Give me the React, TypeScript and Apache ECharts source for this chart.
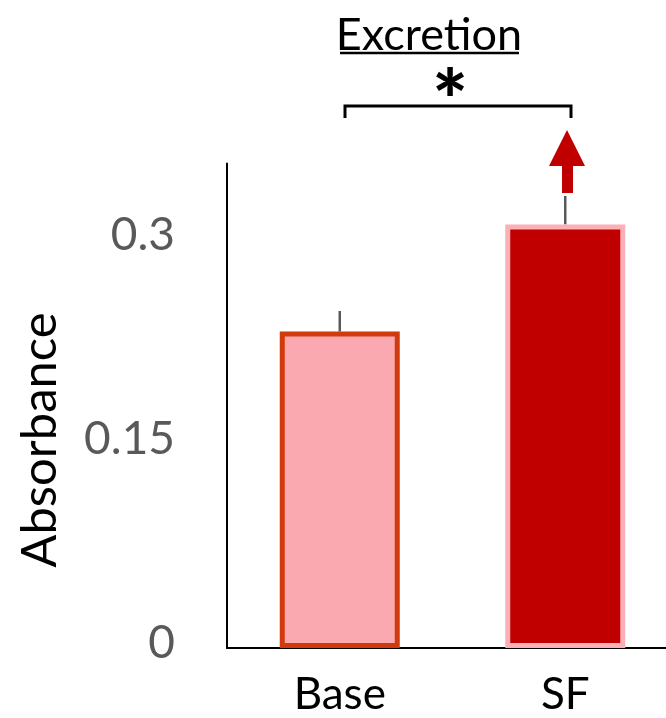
import React, { useEffect, useRef } from "react";
import * as echarts from "echarts";

// Absorbance of excretion samples, baseline vs SF
const categories = ["Base", "SF"];
const means = [0.2332, 0.3121];
const upperErrors = [0.2483, 0.3331];
const tickValues = [0, 0.15, 0.3];
const tickLabels = ["0", "0.15", "0.3"];

const FONT = "Lato, 'Open Sans', sans-serif";

export default function App() {
  const ref = useRef<HTMLDivElement>(null);

  useEffect(() => {
    if (!ref.current) return;
    const chart = echarts.init(ref.current, null, { renderer: "svg" });

    const barStyles = [
      { color: "#FBA9B0", borderColor: "#D13A0C" },
      { color: "#C00000", borderColor: "#FBAFB7" },
    ];

    chart.setOption({
      animation: false,
      // the plot area runs slightly past the right edge of the visible page
      grid: { left: 227, top: 163.5, bottom: 70, right: 2, containLabel: false },
      xAxis: {
        type: "category",
        data: categories,
        axisLine: { show: true, lineStyle: { color: "#000", width: 2 } },
        axisTick: { show: false },
        axisLabel: {
          color: "#000",
          fontSize: 44,
          lineHeight: 34,
          fontFamily: FONT,
          margin: 27,
        },
      },
      yAxis: {
        type: "value",
        min: 0,
        max: 0.357,
        interval: 0.15,
        axisLine: { show: true, lineStyle: { color: "#000", width: 2 } },
        axisTick: { show: false },
        splitLine: { show: false },
        axisLabel: {
          color: "#595959",
          fontSize: 46,
          fontFamily: FONT,
          margin: 52,
          verticalAlign: "bottom",
          lineHeight: 16,
          showMaxLabel: false,
          formatter: (v: number) => {
            const i = tickValues.findIndex((t) => Math.abs(t - v) < 1e-6);
            return i >= 0 ? tickLabels[i] : "";
          },
        },
      },
      series: [
        {
          type: "bar",
          z: 3,
          barWidth: 120,
          data: means.map((v, i) => ({
            value: v,
            itemStyle: { ...barStyles[i], borderWidth: 5 },
          })),
        },
        {
          type: "custom",
          z: 2,
          data: categories.map((_, i) => [i, means[i], upperErrors[i]]),
          renderItem: (params: any, api: any) => {
            const from = api.coord([api.value(0), api.value(1)]);
            const to = api.coord([api.value(0), api.value(2)]);
            return {
              type: "line",
              shape: { x1: from[0], y1: from[1], x2: to[0], y2: to[1] },
              style: { stroke: "#595959", lineWidth: 2.5 },
            };
          },
        },
      ],
      graphic: [
        {
          type: "text",
          x: 37,
          y: 440,
          rotation: Math.PI / 2,
          style: {
            text: "Absorbance",
            fill: "#000",
            fontSize: 49,
            fontFamily: FONT,
            align: "center",
            verticalAlign: "middle",
          },
        },
        {
          type: "text",
          x: 429,
          y: 33,
          style: {
            text: "Excretion",
            fill: "#000",
            fontSize: 45,
            lineHeight: 40,
            fontFamily: FONT,
            align: "center",
            verticalAlign: "middle",
          },
        },
        {
          type: "line",
          shape: { x1: 340, y1: 53, x2: 519, y2: 53 },
          style: { stroke: "#000", lineWidth: 2.5 },
        },
        {
          type: "text",
          x: 450,
          y: 98,
          style: {
            text: "*",
            fill: "#000",
            fontSize: 84,
            lineHeight: 30,
            fontWeight: 900,
            fontFamily: FONT,
            align: "center",
            verticalAlign: "middle",
          },
        },
        {
          type: "polyline",
          shape: { points: [[345, 118], [345, 106], [571, 106], [571, 118]] },
          style: { stroke: "#000", lineWidth: 3, fill: "none" },
        },
        {
          type: "polygon",
          shape: {
            points: [
              [567, 130], [585, 166], [573, 166], [573, 193],
              [562, 193], [562, 166], [549, 166],
            ],
          },
          style: { fill: "#C00000" },
        },
      ],
    });

    return () => chart.dispose();
  }, []);

  return (
    <div
      ref={ref}
      style={{ position: "fixed", left: 0, top: 0, width: 680, height: 718 }}
    />
  );
}
